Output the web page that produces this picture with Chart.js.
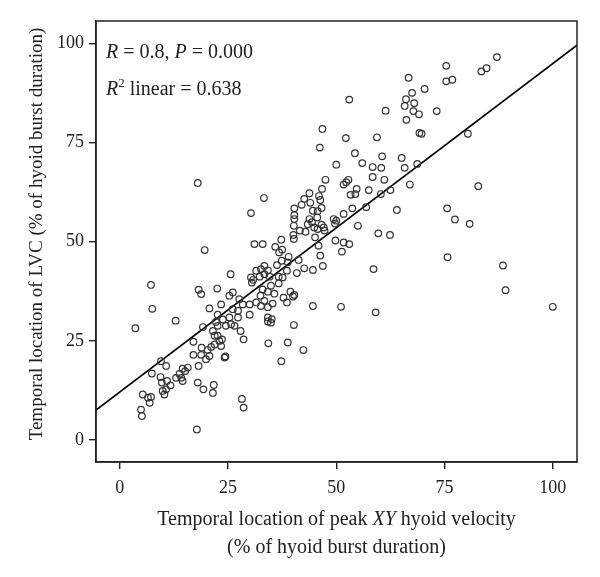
<!DOCTYPE html>
<html>
<head>
<meta charset="utf-8">
<script src="https://cdn.jsdelivr.net/npm/chart.js@4"></script>
<style>
  body { margin: 0; background: #fff; }
  #wrap { width: 600px; height: 577px; }
</style>
</head>
<body>
<div id="wrap"><canvas id="Chart" width="600" height="577"></canvas></div>
<script>
// peak XY hyoid velocity location (% of burst)
const xValues = [
  66.7, 67.5, 66.1, 68.0, 65.8, 67.8, 66.2, 53.0, 61.4, 46.8, 46.2, 52.2, 59.4, 54.3, 60.6, 65.1, 50.0, 56.0, 58.4, 60.4, 65.8, 68.7,
  75.4, 75.4, 76.8, 83.5, 84.7, 87.1, 70.4, 73.2, 69.1, 69.7, 69.2, 80.4,
  82.8, 75.6, 77.4, 80.8, 75.7, 88.5, 89.1, 100.0,
  33.3, 47.5, 51.7, 52.3, 52.8, 58.4, 61.1, 67.0, 57.5, 62.5, 60.3, 54.7, 54.4, 53.3, 46.7, 43.8, 46.0, 46.3, 42.6, 44.0,
  42.0, 40.3, 40.3, 40.3, 46.6, 45.7, 44.6, 45.6, 43.8, 44.4, 44.9, 43.4, 46.6, 47.1, 47.3, 45.7, 49.4, 50.0, 49.7, 51.7,
  53.7, 56.9, 64.0, 55.0, 40.2, 41.6, 40.1, 40.2, 42.9, 45.1, 59.7, 62.4, 49.8, 51.7, 53.0, 51.3, 45.9, 46.3, 46.9, 44.6,
  42.6, 58.6, 40.9, 41.3, 39.0, 37.3, 35.9, 36.8, 37.5, 33.0, 37.4, 38.8, 36.3, 38.6, 33.4, 34.2, 32.6, 36.7, 37.6, 33.4,
  34.6, 32.3, 36.7, 34.9, 33.0, 34.2, 35.7, 37.8, 39.4, 40.0, 40.3, 38.6, 35.3, 33.4, 32.5, 34.2, 32.6, 44.6, 51.1, 59.1,
  34.2, 35.1,
  18.0, 30.3, 31.1, 19.6, 25.6, 7.2, 7.5, 18.2, 18.8, 22.5, 30.3, 30.5, 30.8, 31.5, 25.3, 26.1, 27.6, 23.4, 30.0, 28.4,
  31.5, 20.7, 26.1, 27.3, 22.6, 25.3, 27.3, 30.0, 12.9, 23.8,
  3.6, 19.2, 22.6, 22.2, 24.5, 25.7, 26.5, 27.9, 28.6, 21.5, 21.9, 22.6, 23.0, 23.6, 23.4, 21.9, 21.1, 20.3, 18.9, 17.0,
  17.0, 18.8, 19.9, 20.7, 24.2, 24.4, 18.2, 15.7, 14.5, 15.1, 13.8, 14.2, 13.0, 14.5, 9.5, 10.7, 7.4, 9.4, 9.7, 10.9,
  11.7, 9.9, 10.7, 10.3, 5.3, 6.5, 7.2, 6.9, 4.9, 5.1, 18.0, 19.3, 21.5, 21.7, 17.8, 28.2, 28.6,
  34.9, 34.2, 40.2, 34.3, 38.8, 42.4, 37.3
];
// LVC location (% of burst)
const yValues = [
  91.3, 87.5, 85.9, 84.9, 84.2, 82.9, 80.7, 85.8, 83.0, 78.4, 73.7, 76.1, 76.3, 72.3, 71.5, 71.1, 69.4, 69.8, 68.8, 68.6, 68.6, 69.6,
  94.3, 90.4, 90.8, 92.9, 93.7, 96.5, 88.5, 82.9, 82.1, 77.2, 77.4, 77.2,
  64.0, 58.4, 55.6, 54.5, 46.1, 44.0, 37.8, 33.6,
  61.0, 65.6, 64.4, 65.0, 65.6, 66.3, 65.6, 64.4, 63.0, 63.0, 62.0, 63.3, 62.0, 61.8, 63.3, 62.2, 61.5, 60.5, 60.8, 59.8,
  59.3, 58.4, 56.7, 55.7, 58.5, 57.7, 57.8, 56.1, 55.7, 54.9, 53.6, 54.4, 54.3, 53.6, 52.8, 53.2, 55.7, 55.3, 54.6, 57.0,
  58.4, 58.7, 58.0, 54.0, 54.0, 52.8, 51.7, 50.7, 52.5, 51.1, 52.1, 51.7, 50.3, 49.8, 49.4, 47.5, 49.0, 46.5, 43.9, 42.9,
  43.3, 43.1, 42.1, 45.4, 46.2, 50.5, 48.7, 47.3, 48.0, 49.4, 45.2, 44.8, 44.1, 42.7, 43.9, 42.8, 43.1, 41.2, 41.0, 41.8,
  41.2, 41.2, 39.5, 38.9, 38.0, 37.4, 36.9, 35.9, 37.4, 36.2, 36.6, 34.7, 34.4, 35.1, 36.4, 33.5, 33.8, 33.8, 33.6, 32.2,
  30.9, 30.5,
  64.8, 57.2, 49.4, 47.9, 41.8, 39.1, 33.1, 37.9, 36.8, 38.2, 41.0, 39.7, 40.4, 42.7, 36.4, 37.2, 35.5, 34.2, 34.2, 34.2,
  34.7, 33.2, 33.0, 32.6, 31.6, 30.9, 30.9, 31.6, 30.1, 30.4,
  28.2, 28.5, 28.8, 29.8, 28.8, 29.2, 28.8, 27.5, 25.4, 27.5, 26.3, 26.3, 25.0, 25.4, 23.7, 24.1, 23.5, 22.7, 23.3, 24.8,
  21.5, 21.5, 20.4, 21.2, 20.8, 21.1, 18.7, 18.3, 18.0, 17.4, 16.7, 15.7, 15.7, 14.9, 19.9, 18.7, 16.8, 15.9, 14.5, 14.9,
  13.8, 12.4, 12.8, 11.5, 11.5, 10.7, 10.9, 9.4, 7.7, 6.1, 14.5, 12.8, 11.9, 13.9, 2.7, 10.4, 8.2,
  29.6, 29.9, 29.0, 24.4, 24.6, 22.7, 19.9
];
// fit line ends
const lineX = [-5.5, 105.6];
const lineY = [7.6, 99.5];
const tickValues = [0, 25, 50, 75, 100];

const SERIF = "'Liberation Serif', 'DejaVu Serif', serif";
const INK = "#222";

// draw pieces of text with their own fonts, one after another
function richText(ctx, parts, x, y, align) {
  let total = 0;
  parts.forEach((p) => {
    ctx.font = p.font;
    total += ctx.measureText(p.text).width;
  });
  let cur = align == "center" ? x - total / 2 : x;
  parts.forEach((p) => {
    ctx.font = p.font;
    ctx.fillText(p.text, cur, y + (p.dy || 0));
    cur += ctx.measureText(p.text).width;
  });
}

const textPlugin = {
  id: "texts",
  afterDraw(chart) {
    const ctx = chart.ctx;
    const a = chart.chartArea;
    ctx.save();
    // frame
    ctx.strokeStyle = INK;
    ctx.lineWidth = 1.5;
    ctx.strokeRect(a.left, a.top, a.right - a.left, a.bottom - a.top);

    ctx.fillStyle = INK;
    ctx.textBaseline = "alphabetic";
    const f = "20px " + SERIF;
    const fi = "italic 20px " + SERIF;
    richText(ctx, [
      { text: "R", font: fi }, { text: " = 0.8, ", font: f },
      { text: "P", font: fi }, { text: " = 0.000", font: f }
    ], a.left + 10, a.top + 37, "left");
    richText(ctx, [
      { text: "R", font: fi }, { text: "2", font: "13px " + SERIF, dy: -8 },
      { text: " linear = 0.638", font: f }
    ], a.left + 10, a.top + 74, "left");

    // x axis title
    const cx = (a.left + a.right) / 2;
    richText(ctx, [
      { text: "Temporal location of peak ", font: f },
      { text: "XY", font: fi },
      { text: " hyoid velocity", font: f }
    ], cx, 525, "center");
    richText(ctx, [{ text: "(% of hyoid burst duration)", font: f }], cx, 553, "center");

    // y axis title
    ctx.translate(42, 234);
    ctx.rotate(-Math.PI / 2);
    richText(ctx, [{ text: "Temporal location of LVC (% of hyoid burst duration)", font: "19px " + SERIF }], 0, 0, "center");
    ctx.restore();
  }
};

const points = xValues.map((x, i) => ({ x: x, y: yValues[i] }));
const fit = lineX.map((x, i) => ({ x: x, y: lineY[i] }));

function axis(pos) {
  return {
    type: "linear",
    position: pos,
    min: -5.5,
    max: 105.6,
    afterBuildTicks: (s) => { s.ticks = tickValues.map((v) => ({ value: v })); },
    afterFit: (s) => {
      if (pos == "left") s.width = 96; else s.height = 115;
    },
    grid: { drawOnChartArea: false, color: INK, lineWidth: 1.4, tickLength: 7 },
    border: { display: true, color: INK, width: 1.5 },
    ticks: {
      color: INK,
      padding: pos == "left" ? 5 : 8,
      font: { family: SERIF, size: 18 }
    }
  };
}

new Chart(document.getElementById("Chart"), {
  type: "scatter",
  data: {
    datasets: [
      {
        data: points,
        pointRadius: 3.3,
        pointBorderWidth: 1.2,
        pointBorderColor: "#333",
        pointBackgroundColor: "rgba(0,0,0,0)"
      },
      {
        type: "line",
        data: fit,
        borderColor: "#000",
        borderWidth: 1.6,
        pointRadius: 0,
        fill: false
      }
    ]
  },
  options: {
    responsive: false,
    animation: false,
    layout: { padding: { top: 21, right: 23, left: 0, bottom: 0 } },
    plugins: { legend: { display: false }, tooltip: { enabled: false } },
    scales: { x: axis("bottom"), y: axis("left") }
  },
  plugins: [textPlugin]
});
</script>
</body>
</html>
